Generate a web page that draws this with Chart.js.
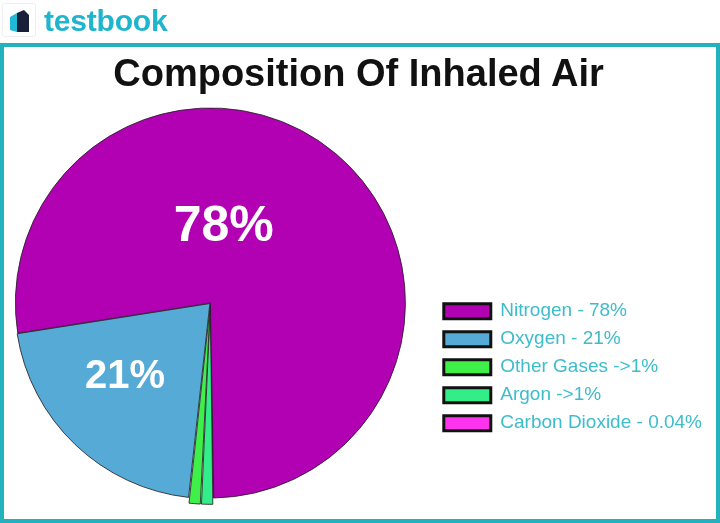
<!DOCTYPE html>
<html>
<head>
<meta charset="utf-8">
<script src="https://cdn.jsdelivr.net/npm/chart.js"></script>
<style>
  body { margin: 0; background: #fff; }
  #wrap { position: relative; width: 720px; height: 523px; overflow: hidden; background: #fff; }
  #myChart { position: absolute; left: -20px; top: 0; }
  #frame { position: absolute; left: 0; top: 43px; width: 720px; height: 480px; box-sizing: border-box;
           border: 4px solid #22b2be; pointer-events: none; }
  #logo { position: absolute; left: 2px; top: 3px; width: 34px; height: 34px; box-sizing: border-box;
          border: 1px solid #eeeeee; border-radius: 3px; }
  #brand { position: absolute; left: 44px; top: 4px; font: bold 30px "Liberation Sans", Arial, sans-serif;
           color: #1fb5cc; letter-spacing: -0.2px; }
  #title { position: absolute; left: 0; top: 52px; width: 717px; text-align: center; line-height: 38px;
           font: bold 38px "Liberation Sans", Arial, sans-serif; color: #111; }
</style>
</head>
<body>
<div id="wrap">
  <canvas id="myChart" width="756" height="523"></canvas>
  <div id="frame"></div>
  <div id="logo">
    <svg width="32" height="32" viewBox="0 0 32 32">
      <polygon points="7,13 14,9 14,28 7,26" fill="#22b8d8"/>
      <polygon points="14,9 21,6 26,11 26,28 14,28" fill="#1a1f3a"/>
    </svg>
  </div>
  <div id="brand">testbook</div>
  <div id="title">Composition Of Inhaled Air</div>
</div>
<script>
const categories = ['Nitrogen - 78%', 'Oxygen - 21%', 'Other Gases ->1%', 'Argon ->1%', 'Carbon Dioxide - 0.04%'];
const percentages = [78, 21, 1, 1, 0.04];
const sliceColors = ['#b200b3', '#55aad6', '#3ff04a', '#33ee88', '#ff33ee'];
const sliceOffsets = [0, 3, 13, 13, 0];

// the picture runs its slices counter-clockwise, chart.js only clockwise
const rev = arr => arr.slice().reverse();

const sliceText = {
  id: 'sliceText',
  afterDatasetsDraw(chart, args, opts) {
    const arcs = chart.getDatasetMeta(0).data;
    const n = arcs.length;
    const ctx = chart.ctx;
    ctx.save();
    ctx.fillStyle = '#ffffff';
    ctx.textAlign = 'center';
    ctx.textBaseline = 'middle';
    opts.items.forEach(it => {
      const arc = arcs[n - 1 - it.index];
      const a = it.angle * Math.PI / 180;
      ctx.font = 'bold ' + it.size + 'px "Liberation Sans", Arial, sans-serif';
      ctx.fillText(percentages[it.index] + '%', arc.x + Math.cos(a) * it.r, arc.y + Math.sin(a) * it.r);
    });
    ctx.restore();
  }
};

const ctx = document.getElementById('myChart');

new Chart(ctx, {
  type: 'pie',
  data: {
    labels: rev(categories),
    datasets: [{
      data: rev(percentages),
      backgroundColor: rev(sliceColors),
      borderColor: 'rgba(40,30,40,0.85)',
      borderWidth: 1,
      offset: rev(sliceOffsets)
    }]
  },
  plugins: [sliceText],
  options: {
    responsive: false,
    animation: false,
    rotation: 179,
    radius: 195,
    layout: { padding: { top: 108, bottom: 25, left: 6, right: 24 } },
    plugins: {
      tooltip: { enabled: false },
      title: { display: false },
      legend: {
        position: 'right',
        reverse: true,
        title: { display: true, text: ' ', font: { size: 12 }, padding: { top: 114, bottom: 0 } },
        labels: {
          boxWidth: 47,
          boxHeight: 15,
          padding: 9,
          color: '#3dbccb',
          font: { family: '"Liberation Sans", Arial, sans-serif', size: 19 },
          generateLabels(chart) {
            const items = Chart.overrides.pie.plugins.legend.labels.generateLabels(chart);
            return items.map(item => Object.assign(item, {
              lineWidth: 3,
              strokeStyle: '#111111',
              fontColor: '#3dbccb'
            }));
          }
        }
      },
      sliceText: {
        items: [
          { index: 0, angle: -80, r: 77, size: 50 },
          { index: 1, angle: 139, r: 113, size: 40 }
        ]
      }
    }
  }
});
</script>
</body>
</html>
